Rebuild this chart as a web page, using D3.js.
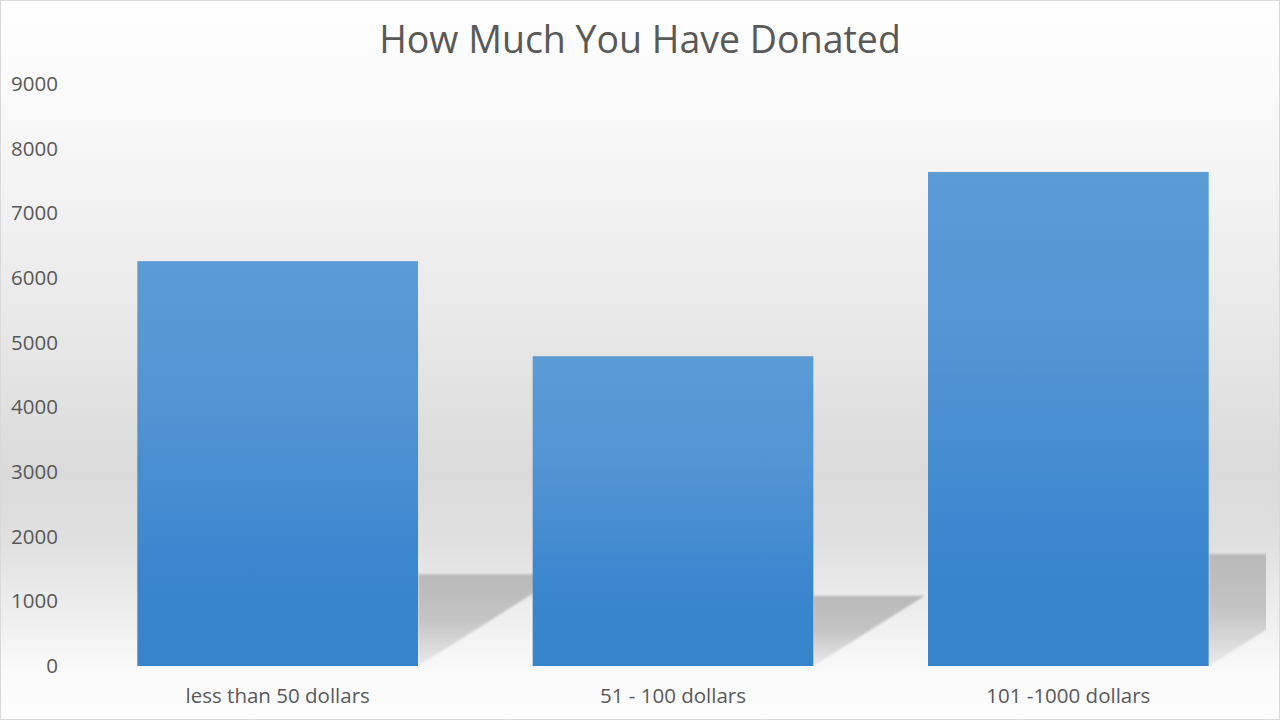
<!DOCTYPE html>
<html>
<head>
<meta charset="utf-8">
<script src="https://cdn.jsdelivr.net/npm/d3@7"></script>
<style>
html,body{margin:0;padding:0;background:#fff;}
svg{display:block;}
text{font-family:"Open Sans","Noto Sans",sans-serif;fill:#595959;}
</style>
</head>
<body>
<script>
const categories = ["less than 50 dollars", "51 - 100 dollars", "101 -1000 dollars"];
const values = [6260, 4790, 7640];
const yTicks = [0, 1000, 2000, 3000, 4000, 5000, 6000, 7000, 8000, 9000];
const title = "How Much You Have Donated";

const W = 1280, H = 720;
const plot = {left: 80, right: 1266, top: 84, bottom: 666};

const svg = d3.select("body").append("svg").attr("width", W).attr("height", H);
const defs = svg.append("defs");

// background gradient
const bg = defs.append("linearGradient").attr("id", "bg").attr("x1", 0).attr("y1", 0).attr("x2", 0).attr("y2", 1);
[[0, "#ffffff"], [0.15, "#f9f9f9"], [0.35, "#eeeeee"], [0.5, "#e5e5e5"], [0.66, "#dadada"],
 [0.76, "#e1e1e1"], [0.85, "#eeeeee"], [0.93, "#f9f9f9"], [1, "#fdfdfd"]]
  .forEach(([o, c]) => bg.append("stop").attr("offset", o).attr("stop-color", c));

// bar gradient
const bar = defs.append("linearGradient").attr("id", "bar").attr("x1", 0).attr("y1", 0).attr("x2", 0).attr("y2", 1);
[[0, "#5b9bd6"], [0.35, "#5394d3"], [0.75, "#3b86ce"], [1, "#3784cd"]]
  .forEach(([o, c]) => bar.append("stop").attr("offset", o).attr("stop-color", c));

// shadow gradient
const sh = defs.append("linearGradient").attr("id", "sh").attr("x1", 0).attr("y1", 0).attr("x2", 0).attr("y2", 1);
[[0, "#b9b9b9"], [0.5, "#c4c4c4"], [1, "#ebebeb"]]
  .forEach(([o, c]) => sh.append("stop").attr("offset", o).attr("stop-color", c));
defs.append("filter").attr("id", "blur").attr("x", -0.1).attr("y", -0.1).attr("width", 1.2).attr("height", 1.2)
  .append("feGaussianBlur").attr("stdDeviation", 1.2);
defs.append("clipPath").attr("id", "clip").append("rect")
  .attr("x", plot.left).attr("y", 0).attr("width", plot.right - plot.left).attr("height", plot.bottom);

svg.append("rect").attr("x", 0).attr("y", 0).attr("width", W).attr("height", H).attr("fill", "url(#bg)");
svg.append("rect").attr("x", 0.5).attr("y", 0.5).attr("width", W - 1).attr("height", H - 1)
  .attr("fill", "none").attr("stroke", "#d9d9d9");

const x = d3.scaleBand().domain(categories).range([plot.left, plot.right]).paddingInner(0.29).paddingOuter(0.145);
const y = d3.scaleLinear().domain([0, 9000]).range([plot.bottom, plot.top]);

// title
svg.append("text").attr("x", W / 2).attr("y", 53).attr("text-anchor", "middle")
  .style("font-size", "37.5px").text(title);

// floor shadows
const data = categories.map((c, i) => ({c, v: values[i]}));
svg.append("g").attr("clip-path", "url(#clip)").selectAll("path").data(data).join("path")
  .attr("d", d => {
    const xr = x(d.c) + x.bandwidth();
    const s = (y(0) - y(d.v)) * 0.2266;
    const len = s / 0.63;
    return `M${xr},${y(0)} L${xr},${y(0) - s} L${xr + len},${y(0) - s} Z`;
  })
  .attr("fill", "url(#sh)").attr("filter", "url(#blur)");

// bars
svg.append("g").selectAll("rect").data(data).join("rect")
  .attr("x", d => x(d.c)).attr("width", x.bandwidth())
  .attr("y", d => y(d.v)).attr("height", d => y(0) - y(d.v))
  .attr("fill", "url(#bar)");

// y axis
const yAxis = svg.append("g").attr("transform", `translate(58,0)`)
  .call(d3.axisLeft(y).tickValues(yTicks).tickSize(0).tickPadding(0).tickFormat(d3.format("d")));
yAxis.select(".domain").remove();
yAxis.selectAll("text").style("font-size", "20.5px").style("font-family", null).attr("fill", "#595959");

// x axis
const xAxis = svg.append("g").attr("transform", `translate(0,${plot.bottom})`)
  .call(d3.axisBottom(x).tickSize(0).tickPadding(22));
xAxis.select(".domain").remove();
xAxis.selectAll("text").style("font-size", "20.5px").style("font-family", null).attr("fill", "#595959");
</script>
</body>
</html>
